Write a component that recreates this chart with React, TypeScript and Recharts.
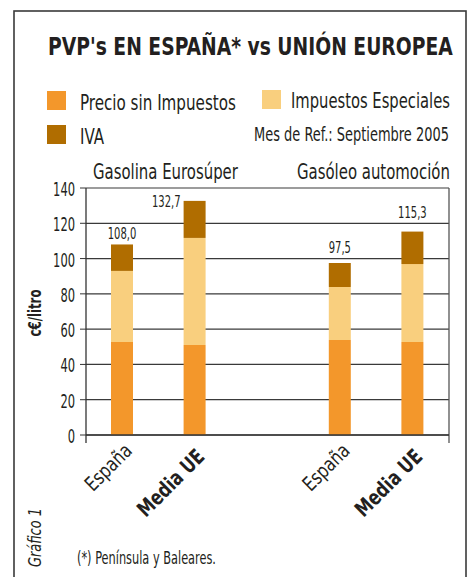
import React from "react";
import {
  BarChart,
  Bar,
  XAxis,
  YAxis,
  CartesianGrid,
  LabelList,
  usePlotArea,
} from "recharts";

// ---- data ----
const categoryKeys = ["gasEs", "gasUe", "gap", "dieEs", "dieUe"];
const categoryLabels = ["España", "Media UE", "", "España", "Media UE"];
const categoryBold = [false, true, false, false, true];
const precioSinImpuestos = [52.7, 51.0, null, 53.9, 52.7];
const impuestosEspeciales = [40.3, 60.7, null, 30.0, 44.2];
const iva = [15.0, 21.0, null, 13.6, 18.4];
const yTicks = [0, 20, 40, 60, 80, 100, 120, 140];
const groupTitles = ["Gasolina Eurosúper", "Gasóleo automoción"];

const title = "PVP's EN ESPAÑA* vs UNIÓN EUROPEA";
const refText = "Mes de Ref.: Septiembre 2005";
const yLabel = "c€/litro";
const sourceText = "Gráfico 1";
const footnote = "(*) Península y Baleares.";

// ---- style ----
const FAM = "DejaVu Sans Condensed";
const FF = `'${FAM}', 'Liberation Sans', sans-serif`;
const INK = "#231F20";
const series = [
  { key: "precio", name: "Precio sin Impuestos", color: "#F3972B" },
  { key: "especiales", name: "Impuestos Especiales", color: "#F9CF7E" },
  { key: "iva", name: "IVA", color: "#B06D00" },
];
const labelPlacement = ["top", "left", "none", "top", "top"];
const labelGap = [5, 0, 0, 10, 14];

const data = categoryKeys.map((k, i) => ({
  key: k,
  precio: precioSinImpuestos[i],
  especiales: impuestosEspeciales[i],
  iva: iva[i],
  total:
    precioSinImpuestos[i] == null
      ? null
      : Math.round(
          ((precioSinImpuestos[i] as number) + (impuestosEspeciales[i] as number) + (iva[i] as number)) * 10
        ) / 10,
}));

let canvasCtx: any = null;
const measure = (txt: string, size: number, weight: number, italic: boolean) => {
  try {
    if (!canvasCtx) canvasCtx = document.createElement("canvas").getContext("2d");
    canvasCtx.font = `${italic ? "italic " : ""}${weight} ${size}px '${FAM}', sans-serif`;
    return canvasCtx.measureText(txt).width || 0;
  } catch (e) {
    return 0;
  }
};

type FitProps = {
  x: number;
  y: number;
  text: string;
  width: number;
  size: number;
  weight?: number;
  italic?: boolean;
  anchor?: "start" | "middle" | "end";
  rotate?: number;
};

const FitText = ({ x, y, text, width, size, weight = 400, italic = false, anchor = "start", rotate = 0 }: FitProps) => {
  const natural = measure(text, size, weight, italic);
  const s = natural > 0 ? width / natural : 1;
  return (
    <text
      x={0}
      y={0}
      transform={`translate(${x},${y}) rotate(${rotate}) scale(${s},1)`}
      textAnchor={anchor}
      fontFamily={FF}
      fontSize={size}
      fontWeight={weight}
      fontStyle={italic ? "italic" : "normal"}
      fill={INK}
    >
      {text}
    </text>
  );
};

const numWidth = (s: string) => {
  let w = 0;
  for (const c of s) w += c === "," ? 3 : 6.4;
  return w;
};

const YTick = (props: any) => {
  const { x, y, payload } = props;
  const s = String(payload.value);
  return <FitText x={x - 3} y={y + 8} text={s} width={s.length * 7.3} size={19} anchor="end" />;
};

const XTick = (props: any) => {
  const { x, y, index } = props;
  const label = categoryLabels[index];
  if (!label) return null;
  const bold = categoryBold[index];
  return (
    <FitText
      x={x + 11}
      y={y + (bold ? 15 : 9)}
      text={label}
      width={bold ? 85 : 57}
      size={bold ? 21 : 20}
      weight={bold ? 700 : 400}
      anchor="end"
      rotate={-45}
    />
  );
};

const TotalLabel = (props: any) => {
  const { x, y, width, value } = props;
  if (value == null) return null;
  const i = data.findIndex((d) => d.total === value);
  const txt = Number(value).toFixed(1).replace(".", ",");
  const tl = numWidth(txt);
  if (labelPlacement[i] === "left") {
    return <FitText x={x - 3} y={y + 6} text={txt} width={tl} size={15} anchor="end" />;
  }
  return <FitText x={x + width / 2} y={y - labelGap[i]} text={txt} width={tl} size={15} anchor="middle" />;
};

const Frame = () => {
  const pa: any = usePlotArea();
  if (!pa) return null;
  const { x, y, width, height } = pa;
  return (
    <g>
      <line x1={x} y1={y} x2={x} y2={y + height + 8} stroke="#333" strokeWidth={1.3} />
      <line x1={x + width} y1={y} x2={x + width} y2={y + height + 8} stroke="#555" strokeWidth={1.3} />
    </g>
  );
};

export default function App() {
  return (
    <div style={{ position: "absolute", left: 0, top: 0, width: 470, height: 577, background: "#fff", overflow: "hidden" }}>
      <BarChart
        width={470}
        height={577}
        data={data}
        margin={{ top: 188, right: 21, bottom: 112, left: 26 }}
        barSize={22}
      >
        <CartesianGrid horizontal vertical={false} stroke="#3a3a3a" strokeWidth={1.2} />
        <XAxis
          dataKey="key"
          height={30}
          tick={<XTick />}
          tickLine={false}
          axisLine={{ stroke: "#333", strokeWidth: 1.3 }}
          interval={0}
        />
        <YAxis
          width={60}
          domain={[0, 140]}
          ticks={yTicks}
          interval={0}
          tick={<YTick />}
          tickSize={6}
          tickMargin={2}
          tickLine={{ stroke: "#333" }}
          axisLine={false}
        />
        {series.map((s, si) => (
          <Bar key={s.key} dataKey={s.key} stackId="a" fill={s.color} isAnimationActive={false}>
            {si === series.length - 1 ? <LabelList dataKey="total" content={<TotalLabel />} /> : null}
          </Bar>
        ))}
        <Frame />
      </BarChart>
      <svg
        width={470}
        height={577}
        style={{ position: "absolute", left: 0, top: 0, pointerEvents: "none" }}
      >
        <rect x={14} y={11} width={452} height={600} fill="none" stroke="#3a3a3a" strokeWidth={1.6} />
        <FitText x={48} y={55} text={title} width={405} size={25} weight={700} />
        {/* legend */}
        <rect x={47} y={91} width={19} height={19} fill={series[0].color} />
        <FitText x={80} y={110} text={series[0].name} width={156} size={22} />
        <rect x={262} y={90} width={19} height={19} fill={series[1].color} />
        <FitText x={291} y={108} text={series[1].name} width={159} size={22} />
        <rect x={47} y={125} width={19} height={19} fill={series[2].color} />
        <FitText x={80} y={144} text={series[2].name} width={24} size={21} />
        <FitText x={254} y={141} text={refText} width={195} size={19} />
        <FitText x={93} y={179} text={groupTitles[0]} width={145} size={21} />
        <FitText x={297} y={179} text={groupTitles[1]} width={153} size={21} />
        <FitText x={41} y={313} text={yLabel} width={47} size={17} weight={700} anchor="middle" rotate={-90} />
        <FitText x={41} y={567} text={sourceText} width={59} size={18} italic rotate={-90} />
        <FitText x={77} y={564} text={footnote} width={139} size={17} />
      </svg>
    </div>
  );
}
